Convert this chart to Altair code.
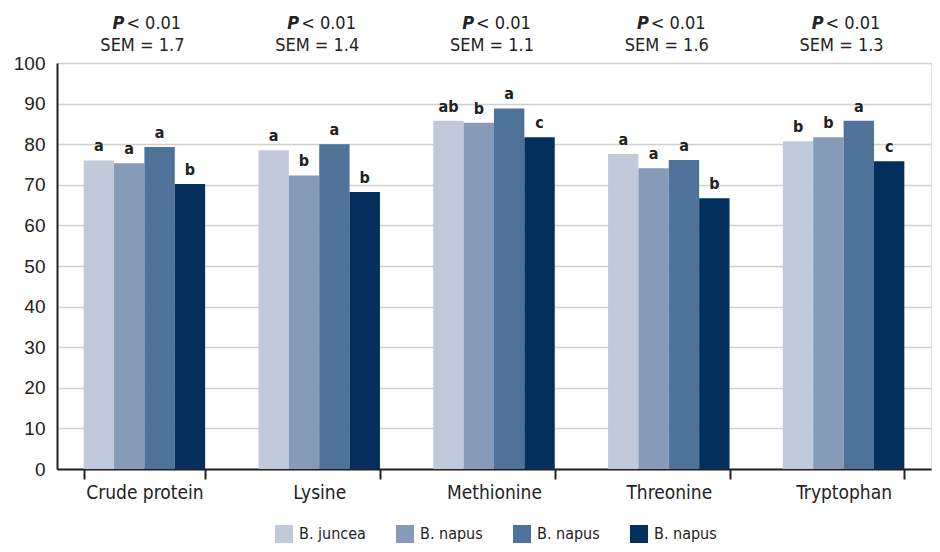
import altair as alt
import pandas as pd

categories = ["Crude protein", "Lysine", "Methionine", "Threonine", "Tryptophan"]
series_keys = ["S1", "S2", "S3", "S4"]
legend_labels = ["B. juncea", "B. napus", "B. napus", "B. napus"]
colors = ["#C1CADB", "#869BB8", "#4F7298", "#022F5B"]

values = {
    "S1": [76.0, 78.5, 85.8, 77.6, 80.7],
    "S2": [75.3, 72.3, 85.3, 74.1, 81.7],
    "S3": [79.3, 80.0, 88.8, 76.1, 85.8],
    "S4": [70.2, 68.2, 81.7, 66.7, 75.8],
}
letters = {
    "S1": ["a", "a", "ab", "a", "b"],
    "S2": ["a", "b", "b", "a", "b"],
    "S3": ["a", "a", "a", "a", "a"],
    "S4": ["b", "b", "c", "b", "c"],
}
p_text = ["< 0.01"] * 5
sem_values = ["1.7", "1.4", "1.1", "1.6", "1.3"]

rows = []
for s in series_keys:
    for i, c in enumerate(categories):
        rows.append({"cat": c, "series": s, "value": values[s][i], "letter": letters[s][i]})
df = pd.DataFrame(rows)
top = pd.DataFrame({"cat": categories, "p": p_text,
                    "sem": ["SEM = " + v for v in sem_values]})

COND = "'Liberation Sans Narrow', 'DejaVu Sans Condensed', 'Roboto Condensed', sans-serif"
REG = "'Liberation Sans', Arial, sans-serif"

label_expr = "{" + ",".join(f"'{k}':'{v}'" for k, v in zip(series_keys, legend_labels)) + "}[datum.label]"

xscale = alt.Scale(domain=categories, paddingInner=0.305, paddingOuter=0.1525)
x_enc = alt.X("cat:N", scale=xscale, sort=categories,
              axis=alt.Axis(title=None, labelAngle=0, tickBand="extent", tickSize=10,
                            tickColor="#222", tickWidth=2, domainColor="#222", domainWidth=2,
                            labelFont=COND, labelFontSize=19, labelColor="#222",
                            labelPadding=4, grid=False))

bars = alt.Chart(df).mark_bar().encode(
    x=x_enc,
    xOffset=alt.XOffset("series:N", sort=series_keys, scale=alt.Scale(paddingInner=0, paddingOuter=0)),
    y=alt.Y("value:Q", scale=alt.Scale(domain=[0, 100], nice=False),
            axis=alt.Axis(title=None, values=list(range(0, 101, 10)), tickSize=0,
                          labelFont=REG, labelFontSize=19, labelColor="#222", labelPadding=12,
                          domainColor="#222", domainWidth=2, gridColor="#D0D0D0", gridWidth=1.5)),
    color=alt.Color("series:N", sort=series_keys,
                    scale=alt.Scale(domain=series_keys, range=colors),
                    legend=alt.Legend(title=None, orient="none", direction="horizontal",
                                      legendX=218, legendY=462, symbolType="square",
                                      symbolSize=324, symbolStrokeWidth=0, symbolOpacity=1,
                                      labelExpr=label_expr, labelFont=COND, labelFontSize=16,
                                      labelColor="#222", labelOffset=6, columnPadding=30)),
)

lett = alt.Chart(df).mark_text(baseline="bottom", dy=-6, font=COND, fontSize=16,
                               fontWeight="bold", color="#222").encode(
    x=alt.X("cat:N", sort=categories, scale=xscale),
    xOffset=alt.XOffset("series:N", sort=series_keys),
    y="value:Q",
    text="letter:N",
)

p_mark = alt.Chart(top).mark_text(align="right", baseline="middle", dx=-20, font=COND,
                                  fontSize=18, fontWeight="bold", fontStyle="italic",
                                  color="#222").encode(
    x=alt.X("cat:N", sort=categories, scale=xscale), y=alt.value(-39), text=alt.value("P"))
p_rest = alt.Chart(top).mark_text(align="left", baseline="middle", dx=-18, font=COND,
                                  fontSize=18, color="#222").encode(
    x=alt.X("cat:N", sort=categories, scale=xscale), y=alt.value(-39), text="p:N")
sem = alt.Chart(top).mark_text(align="center", baseline="middle", dx=-2, font=COND,
                               fontSize=18, color="#222").encode(
    x=alt.X("cat:N", sort=categories, scale=xscale), y=alt.value(-17), text="sem:N")

chart = alt.layer(bars, lett, p_mark, p_rest, sem).properties(
    width=874, height=406,
    autosize=alt.AutoSizeParams(type="none"),
    padding={"left": 49, "top": 55, "right": 1, "bottom": 75},
).configure_view(stroke="#222", strokeWidth=2).configure(background="white")

chart.save("out.html", embed_options={"renderer": "svg", "actions": False})
